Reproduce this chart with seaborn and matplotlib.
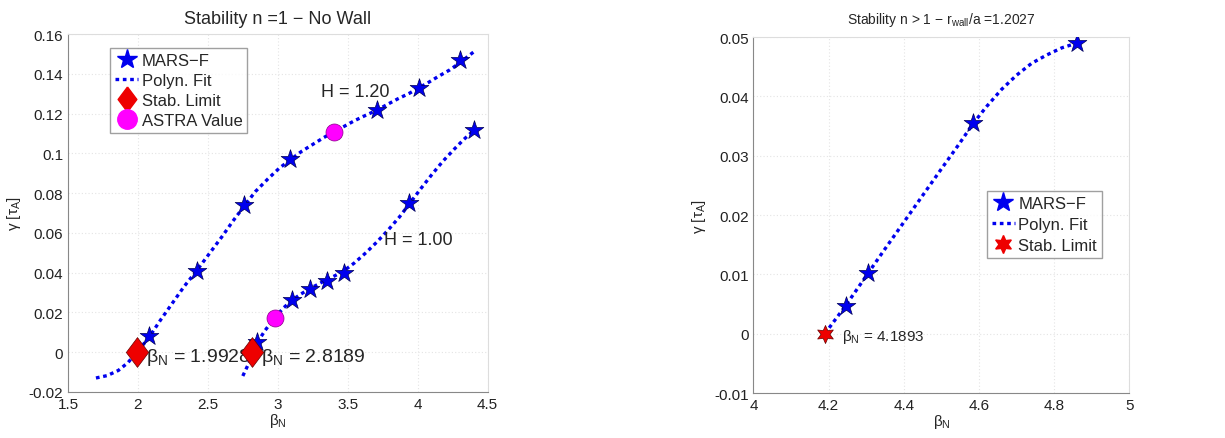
import numpy as np
import pandas as pd
import matplotlib.pyplot as plt
import seaborn as sns
from matplotlib.lines import Line2D

# ---- left panel: n = 1, no wall ----
h120_beta = [2.08, 2.42, 2.76, 3.09, 3.71, 4.01, 4.30]
h120_gamma = [0.008, 0.041, 0.074, 0.097, 0.122, 0.133, 0.147]
h100_beta = [2.85, 3.10, 3.23, 3.35, 3.47, 3.94, 4.40]
h100_gamma = [0.005, 0.026, 0.032, 0.036, 0.040, 0.075, 0.112]

# polynomial fit curves
fit120_beta = [1.70, 1.78, 1.86, 1.93, 1.99, 2.04, 2.08, 2.16, 2.25, 2.33, 2.42,
               2.51, 2.60, 2.68, 2.76, 2.84, 2.93, 3.01, 3.09, 3.17, 3.25, 3.33,
               3.40, 3.48, 3.55, 3.63, 3.71, 3.78, 3.86, 3.94, 4.01, 4.08, 4.15,
               4.23, 4.30, 4.40]
fit120_gamma = [-0.013, -0.0118, -0.0092, -0.0052, 0.000, 0.0040, 0.0075, 0.0160,
                0.0250, 0.0330, 0.0410, 0.0495, 0.0580, 0.0660, 0.0735, 0.0808,
                0.0872, 0.0925, 0.0968, 0.1010, 0.1045, 0.1080, 0.1108, 0.1138,
                0.1165, 0.1192, 0.1218, 0.1245, 0.1275, 0.1302, 0.1330, 0.1358,
                0.1388, 0.1420, 0.1455, 0.1510]
fit100_beta = [2.75, 2.79, 2.82, 2.85, 2.91, 2.98, 3.04, 3.10, 3.16, 3.23, 3.29,
               3.35, 3.41, 3.47, 3.55, 3.63, 3.71, 3.79, 3.87, 3.94, 4.02, 4.10,
               4.18, 4.26, 4.33, 4.40]
fit100_gamma = [-0.012, -0.006, -0.0005, 0.0045, 0.0110, 0.0175, 0.0222, 0.0260,
                0.0290, 0.0320, 0.0342, 0.0365, 0.0385, 0.0408, 0.0450, 0.0500,
                0.0555, 0.0615, 0.0680, 0.0745, 0.0820, 0.0892, 0.0960, 0.1020,
                0.1070, 0.1115]

stab_beta = [1.9928, 2.8189]
stab_gamma = [0.0, 0.0]
astra_beta = [3.40, 2.98]
astra_gamma = [0.111, 0.017]

# ---- right panel: n > 1, with wall ----
wall_beta = [4.245, 4.305, 4.585, 4.86]
wall_gamma = [0.0047, 0.0102, 0.0355, 0.049]
wallfit_beta = [4.19, 4.245, 4.305, 4.35, 4.40, 4.45, 4.50, 4.545, 4.585, 4.62,
                4.66, 4.70, 4.74, 4.78, 4.82, 4.86]
wallfit_gamma = [0.0000, 0.0047, 0.0102, 0.0143, 0.0188, 0.0233, 0.0278, 0.0318,
                 0.0355, 0.0383, 0.0412, 0.0436, 0.0456, 0.0470, 0.0482, 0.0490]
wall_stab_beta = [4.1893]
wall_stab_gamma = [0.0]

sns.set_style("white")
plt.rcParams["font.family"] = ["Liberation Sans", "DejaVu Sans"]
plt.rcParams["mathtext.default"] = "regular"

BLUE = "#0000ee"
DOT = (0, (1.1, 1.1))
# MATLAB style diamond (a little taller than wide)
DIAMOND = [(0, 1), (0.75, 0), (0, -1), (-0.75, 0), (0, 1)]


def style_axes(ax):
    ax.grid(True, color="#e4e4e4", linestyle=(0, (1, 2)), linewidth=0.8)
    ax.tick_params(direction="in", labelsize=11, length=4, colors="#222222")
    for side in ["left", "bottom"]:
        ax.spines[side].set_color("#888888")
    for side in ["top", "right"]:
        ax.spines[side].set_color("#dddddd")
    ax.set_xlabel("β$_N$", fontsize=11, labelpad=0)
    ax.set_ylabel("γ [τ$_A$]", fontsize=11)


fig = plt.figure(figsize=(12.25, 4.39), dpi=100)
ax1 = fig.add_axes([0.0555, 0.105, 0.3425, 0.815])
ax2 = fig.add_axes([0.615, 0.1025, 0.307, 0.8105])

# left panel
for fb, fg in [(fit120_beta, fit120_gamma), (fit100_beta, fit100_gamma)]:
    sns.lineplot(x=fb, y=fg, ax=ax1, color=BLUE, linestyle=DOT, linewidth=2.4, sort=False)
stars = pd.DataFrame({"b": h120_beta + h100_beta, "g": h120_gamma + h100_gamma})
sns.scatterplot(data=stars, x="b", y="g", ax=ax1, marker="*", s=200,
                color=BLUE, edgecolor="#000055", linewidth=0.5, zorder=4)
sns.scatterplot(x=stab_beta, y=stab_gamma, ax=ax1, marker=DIAMOND, s=460,
                color="#ee0000", edgecolor="#660000", linewidth=0.5, zorder=4)
sns.scatterplot(x=astra_beta, y=astra_gamma, ax=ax1, marker="o", s=150,
                color="#ff00ff", edgecolor="#880088", linewidth=0.5, zorder=4)

ax1.set_xlim(1.5, 4.5)
ax1.set_ylim(-0.02, 0.16)
ax1.set_xticks([1.5, 2, 2.5, 3, 3.5, 4, 4.5])
ax1.set_xticklabels(["1.5", "2", "2.5", "3", "3.5", "4", "4.5"])
ax1.set_yticks(np.arange(-0.02, 0.161, 0.02))
ax1.set_yticklabels(["-0.02", "0", "0.02", "0.04", "0.06", "0.08", "0.1",
                     "0.12", "0.14", "0.16"])
style_axes(ax1)
ax1.set_title("Stability n =1 − No Wall", fontsize=13, pad=8)
ax1.text(3.31, 0.129, "H = 1.20", fontsize=13)
ax1.text(3.76, 0.0545, "H = 1.00", fontsize=13)
ax1.text(2.06, -0.0045, "β$_N$ = 1.9928", fontsize=14)
ax1.text(2.88, -0.0045, "β$_N$ = 2.8189", fontsize=14)

handles1 = [
    Line2D([], [], marker="*", color=BLUE, linestyle="none", markersize=15),
    Line2D([], [], color=BLUE, linestyle=DOT, linewidth=2.4),
    Line2D([], [], marker=DIAMOND, color="#ee0000", linestyle="none", markersize=18),
    Line2D([], [], marker="o", color="#ff00ff", linestyle="none", markersize=14),
]
leg1 = ax1.legend(handles1, ["MARS−F", "Polyn. Fit", "Stab. Limit", "ASTRA Value"],
                  loc="upper left", bbox_to_anchor=(0.1, 0.961), fontsize=12,
                  frameon=True, fancybox=False, handlelength=1.4, handletextpad=0.2,
                  labelspacing=0.3, borderpad=0.3, borderaxespad=0)
leg1.get_frame().set_edgecolor("#888888")

# right panel
sns.lineplot(x=wallfit_beta, y=wallfit_gamma, ax=ax2, color=BLUE, linestyle=DOT,
             linewidth=2.4, sort=False)
sns.scatterplot(x=wall_beta, y=wall_gamma, ax=ax2, marker="*", s=200,
                color=BLUE, edgecolor="#000055", linewidth=0.5, zorder=4)
sns.scatterplot(x=wall_stab_beta, y=wall_stab_gamma, ax=ax2, marker=(6, 1, 0), s=170,
                color="#ee0000", edgecolor="#660000", linewidth=0.5, zorder=4)
ax2.set_xlim(4, 5)
ax2.set_ylim(-0.01, 0.05)
ax2.set_xticks([4, 4.2, 4.4, 4.6, 4.8, 5])
ax2.set_xticklabels(["4", "4.2", "4.4", "4.6", "4.8", "5"])
ax2.set_yticks([-0.01, 0, 0.01, 0.02, 0.03, 0.04, 0.05])
ax2.set_yticklabels(["-0.01", "0", "0.01", "0.02", "0.03", "0.04", "0.05"])
style_axes(ax2)
ax2.set_title("Stability n > 1 − r$_{wall}$/a =1.2027", fontsize=10, pad=10)
ax2.text(4.235, -0.0011, "β$_N$ = 4.1893", fontsize=11)

handles2 = [
    Line2D([], [], marker="*", color=BLUE, linestyle="none", markersize=15),
    Line2D([], [], color=BLUE, linestyle=DOT, linewidth=2.4),
    Line2D([], [], marker=(6, 1, 0), color="#ee0000", linestyle="none", markersize=13),
]
leg2 = ax2.legend(handles2, ["MARS−F", "Polyn. Fit", "Stab. Limit"],
                  loc="upper left", bbox_to_anchor=(0.62, 0.567), fontsize=12,
                  frameon=True, fancybox=False, handlelength=1.4, handletextpad=0.2,
                  labelspacing=0.35, borderpad=0.3, borderaxespad=0)
leg2.get_frame().set_edgecolor("#888888")

fig.savefig("out.png", dpi=100)
